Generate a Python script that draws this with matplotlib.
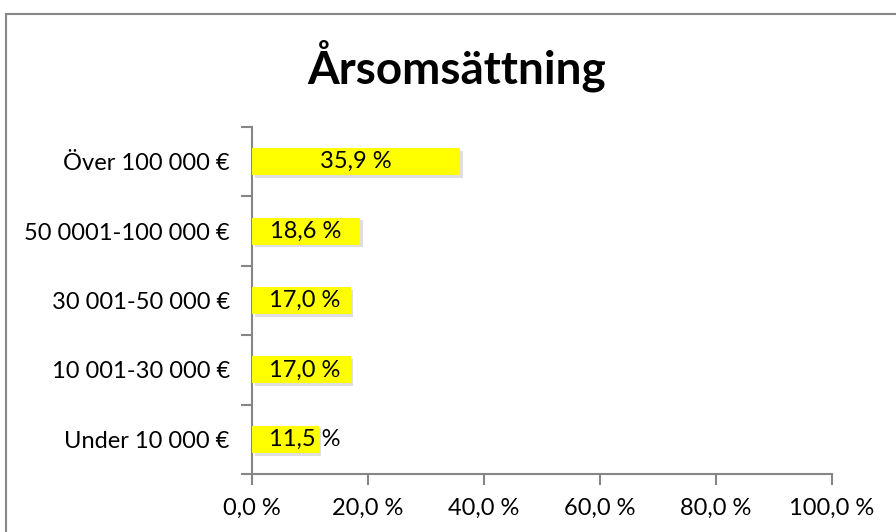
import matplotlib.pyplot as plt
import matplotlib.patches as mpatches
import matplotlib.patheffects as pe

plt.rcParams['font.family'] = ['Lato', 'DejaVu Sans']

# data, bottom to top as drawn
categories = ['Under 10 000 €', '10 001-30 000 €', '30 001-50 000 €',
              '50 0001-100 000 €', 'Över 100 000 €']
values = [11.5, 17.0, 17.0, 18.6, 35.9]
x_ticks = [0, 20, 40, 60, 80, 100]

def fmt(v):
    return f"{v:.1f} %".replace('.', ',')

fig = plt.figure(figsize=(8.96, 5.32), dpi=100)
# outer chart frame
fig.patches.append(mpatches.Rectangle((6/896, -0.05), 1.0, 1 - 14/532 + 0.05,
                                      transform=fig.transFigure, fill=False,
                                      edgecolor='#868686', linewidth=1.5))

ax = fig.add_axes([252/896, 1 - 474/532, 580/896, 347/532])
y = list(range(len(categories)))
bars = ax.barh(y, values, height=0.39, color='#FFFF00', zorder=3)
for b in bars:
    b.set_path_effects([pe.SimplePatchShadow(offset=(2, -2), shadow_rgbFace='#b0b0b0', alpha=0.4),
                        pe.Normal()])

for yi, v in zip(y, values):
    ax.text(max(v / 2, 9.1), yi, fmt(v), ha='center', va='center',
            fontsize=17, color='black', zorder=4)

ax.set_xlim(0, 100)
ax.set_ylim(-0.5, len(categories) - 0.5)
ax.set_xticks(x_ticks)
ax.set_xticklabels([fmt(t) for t in x_ticks], fontsize=17)
ax.set_yticks([i - 0.5 for i in range(len(categories) + 1)])
ax.set_yticklabels([])
ax.set_yticks(y, minor=True)
ax.set_yticklabels(categories, minor=True, fontsize=17)
ax.tick_params(axis='y', which='major', length=8, width=1.5, color='#868686', direction='out')
ax.tick_params(axis='y', which='minor', length=0, pad=16)
ax.tick_params(axis='x', length=8, width=1.5, color='#868686', direction='out', pad=9)

for s in ['top', 'right']:
    ax.spines[s].set_visible(False)
for s in ['left', 'bottom']:
    ax.spines[s].set_color('#868686')
    ax.spines[s].set_linewidth(1.5)

fig.text(457/896, 1 - 66/532, 'Årsomsättning', ha='center', va='center',
         fontsize=33, fontweight='bold')

fig.savefig('out.png', dpi=100)
